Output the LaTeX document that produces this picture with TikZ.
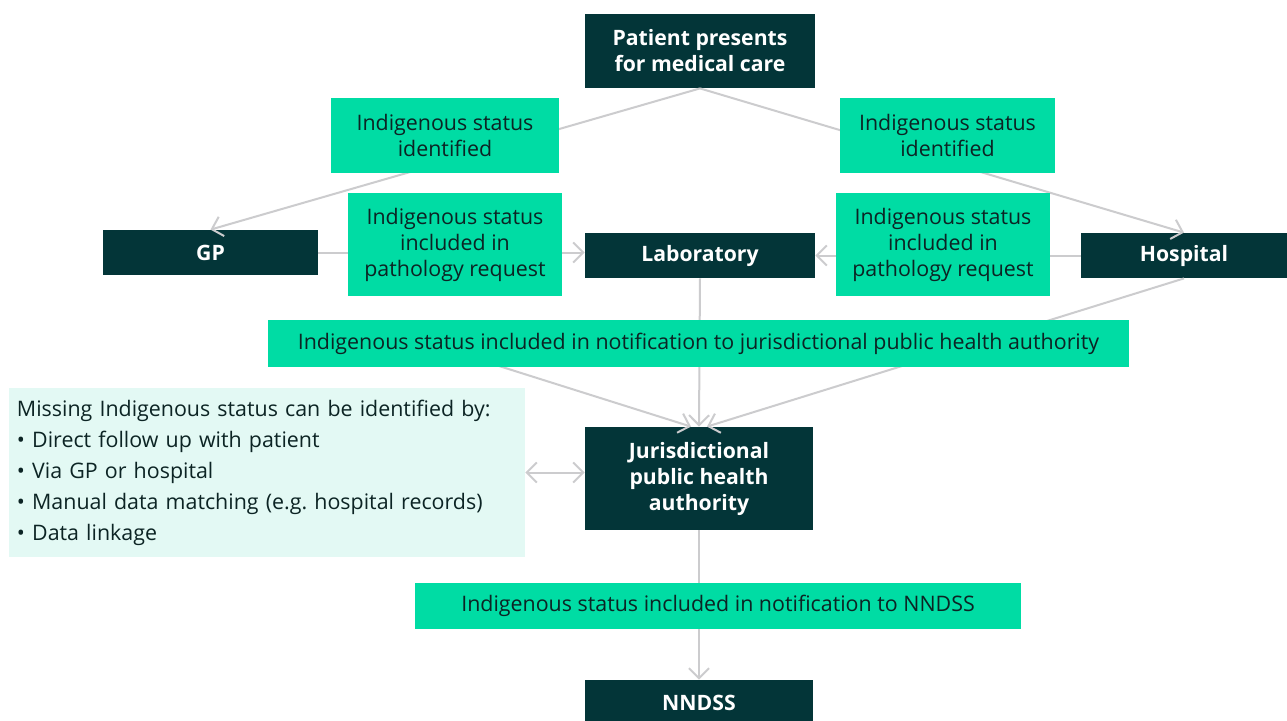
\documentclass[tikz,border=0pt]{standalone}
\usepackage{fontspec}
\setmainfont{Open Sans}
\usepackage{xcolor}
\usetikzlibrary{arrows.meta}
\definecolor{dark}{RGB}{3, 53, 56}
\definecolor{mint}{RGB}{0, 220, 164}
\definecolor{pale}{RGB}{227, 249, 244}
\definecolor{link}{RGB}{204, 204, 206}
\definecolor{ink}{RGB}{12, 36, 36}
\frenchspacing

\tikzset{
    darkbox/.style={fill=dark, text=white, font=\bfseries\fontsize{10.6}{13}\selectfont, align=center, inner sep=0pt},
    mintbox/.style={fill=mint, text=ink, font=\fontsize{10.7}{13}\selectfont, align=center, inner sep=0pt},
    barb/.tip={Straight Barb[length=5pt, width=10pt]},
    link/.style={draw=link, line width=1pt, -barb}
}

\begin{document}
\begin{tikzpicture}[x=0.5pt, y=-0.5pt]
        \clip (0,0) rectangle (1287,720);
        \fill[white] (0,0) rectangle (1287,720);
        \node[darkbox, minimum width=115pt, minimum height=37pt](patient) at (700, 51) {Patient presents\\for medical care};
        \node[darkbox, minimum width=107.5pt, minimum height=22.5pt](gp) at (210.5, 252.5) {GP};
        \node[darkbox, minimum width=115pt, minimum height=22.5pt](lab) at (700, 255.5) {Laboratory};
        \node[darkbox, minimum width=103pt, minimum height=22.5pt](hosp) at (1184, 255.5) {Hospital};
        \node[darkbox, minimum width=114pt, minimum height=51.5pt](jpha) at (699, 478.5) {Jurisdictional\\public health\\authority};
        \node[darkbox, minimum width=114pt, minimum height=22.5pt](nndss) at (699, 702.5) {NNDSS};
        \node[fill=pale, text=ink, minimum width=258pt, minimum height=84.5pt, text width=250pt, inner xsep=4pt, inner ysep=0pt, align=left, font=\fontsize{10.7}{15.5}\selectfont](missing) at (267, 472.5) {Missing Indigenous status can be identified by:\\
            \textbullet\ Direct follow up with patient\\
            \textbullet\ Via GP or hospital\\
            \textbullet\ Manual data matching (e.g. hospital records)\\
            \textbullet\ Data linkage};
        \coordinate(gpfeed) at (480, 360);
        \draw[link] (patient.south)--(gp.north);
        \draw[link] (patient.south)--(hosp.north);
        \draw[link] (gp.east)--(lab.west |- gp.east);
        \draw[link] (hosp.west)--(lab.east);
        \draw[link] (lab.south)--(jpha.north);
        \draw[link] (gpfeed)--([xshift=-4pt]jpha.north);
        \draw[link] (hosp.south)--([xshift=4pt]jpha.north);
        \draw[link, barb-barb] (missing.east)--(jpha.west |- missing.east);
        \draw[link] (jpha.south)--(nndss.north);
        \node[mintbox, minimum width=114pt, minimum height=37.5pt](idl) at (445, 135.5) {Indigenous status\\identified};
        \node[mintbox, minimum width=107.5pt, minimum height=37.5pt](idr) at (947.5, 135.5) {Indigenous status\\identified};
        \node[mintbox, minimum width=107pt, minimum height=51.5pt](pathl) at (455, 244.5) {Indigenous status\\included in\\pathology request};
        \node[mintbox, minimum width=107pt, minimum height=51.5pt](pathr) at (943, 244.5) {Indigenous status\\included in\\pathology request};
        \node[mintbox, minimum width=430.5pt, minimum height=23.5pt](notifj) at (698.5, 343.5) {Indigenous status included in notification to jurisdictional public health authority};
        \node[mintbox, minimum width=303pt, minimum height=23pt](notifn) at (718, 606) {Indigenous status included in notification to NNDSS};
    \end{tikzpicture}
\end{document}
